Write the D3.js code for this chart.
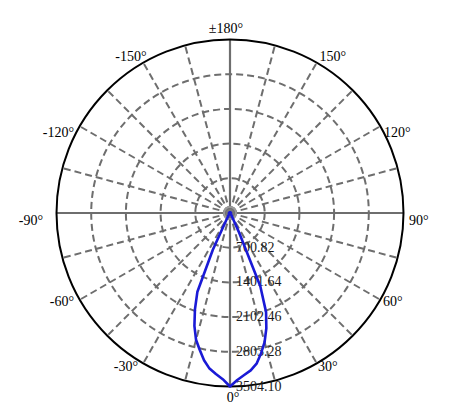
<!DOCTYPE html>
<html>
<head>
<meta charset="utf-8">
<script src="https://cdn.jsdelivr.net/npm/d3@7"></script>
<style>
  html, body { margin: 0; padding: 0; background: #fff; }
  svg { display: block; }
  text { font-family: "Liberation Serif", "Times New Roman", serif; }
</style>
</head>
<body>
<svg id="chart" width="474" height="416"></svg>
<script>
// ---- data ----
const angles = [-180, -170, -160, -150, -140, -130, -120, -110, -100, -90, -80, -70, -60, -50, -45, -40, -35,
  -30, -27.5, -25, -22.5, -20, -17.5, -15, -12.5, -10, -7.5, -5, -2.5,
  0, 2.5, 5, 7.5, 10, 12.5, 15, 17.5, 20, 22.5, 25, 27.5, 30,
  35, 40, 45, 50, 60, 70, 80, 90, 100, 110, 120, 130, 140, 150, 160, 170, 180];
const intensity = [16, 16, 16, 16, 17, 17, 17, 18, 18, 19, 20, 22, 25, 28, 30, 34, 44,
  68, 170, 820, 1720, 2070, 2390, 2650, 2830, 3020, 3170, 3265, 3360,
  3504.1, 3375, 3285, 3205, 3090, 2900, 2700, 2440, 2130, 1600, 420, 115, 60,
  42, 35, 30, 27, 24, 22, 20, 19, 18, 18, 17, 17, 17, 16, 16, 16, 16];
const radialTicks = [700.82, 1401.64, 2102.46, 2803.28, 3504.10];
const radialTickLabels = ["700.82", "1401.64", "2102.46", "2803.28", "3504.10"];
const angleTicks = [180, 150, 120, 90, 60, 30, 0, -30, -60, -90, -120, -150];
const angleTickLabels = ["±180°", "150°", "120°", "90°", "60°", "30°", "0°", "-30°", "-60°", "-90°", "-120°", "-150°"];
const spokeStep = 15;

// ---- layout ----
const cx = 230, cy = 213, R = 173.5;
const svg = d3.select("#chart");
const g = svg.append("g").attr("transform", `translate(${cx},${cy})`);
const r = d3.scaleLinear().domain([0, 3504.1]).range([0, R]);
const rad = a => a * Math.PI / 180;
// 0° points down, +90° right, ±180° up
const px = (a, rr) => rr * Math.sin(rad(a));
const py = (a, rr) => rr * Math.cos(rad(a));

const gridColor = "#6e6e6e";
const fontSize = 14;

// dashed rings
g.selectAll("circle.ring")
  .data(radialTicks.slice(0, -1))
  .join("circle")
  .attr("class", "ring")
  .attr("r", d => r(d))
  .attr("fill", "none")
  .attr("stroke", gridColor)
  .attr("stroke-width", 2)
  .attr("stroke-dasharray", "7,4");

// spokes
const spokes = d3.range(-180, 180, spokeStep);
g.selectAll("line.spoke")
  .data(spokes)
  .join("line")
  .attr("class", "spoke")
  .attr("x1", 0).attr("y1", 0)
  .attr("x2", d => px(d, R))
  .attr("y2", d => py(d, R))
  .attr("stroke", gridColor)
  .attr("stroke-width", d => d % 90 === 0 ? 2.2 : 2)
  .attr("stroke-dasharray", d => d % 90 === 0 ? null : "7,4");

// center hub
g.append("circle").attr("r", 6).attr("fill", "none").attr("stroke", "#9a9a9a").attr("stroke-width", 2);
g.append("circle").attr("r", 4).attr("fill", "#7a7a7a");

// outer circle
g.append("circle")
  .attr("r", R)
  .attr("fill", "none")
  .attr("stroke", "#000")
  .attr("stroke-width", 2);

// radial labels
g.selectAll("text.rlab")
  .data(radialTicks)
  .join("text")
  .attr("class", "rlab")
  .attr("x", 6)
  .attr("y", d => r(d) + 4)
  .attr("font-size", fontSize)
  .attr("fill", "#1a1a1a")
  .text((d, i) => radialTickLabels[i]);

// angle labels
const nudge = { "0": [3, 10], "30": [-1.5, 3], "60": [-2, 3.5], "90": [0, 11.5], "120": [-1, 13.5], "150": [0, 3],
  "180": [-4, -1], "-30": [-2.5, 3], "-60": [-1, 3.5], "-90": [-8, 11.5], "-120": [-1, 13.5], "-150": [6, 3.5] };
const LR = 179;
g.selectAll("text.alab")
  .data(angleTicks)
  .join("text")
  .attr("class", "alab")
  .attr("x", d => px(d, LR) + nudge[String(d)][0])
  .attr("y", d => py(d, LR) + nudge[String(d)][1])
  .attr("text-anchor", d => (d === 0 || d === 180) ? "middle" : (d > 0 ? "start" : "end"))
  .attr("font-size", fontSize)
  .attr("fill", "#000")
  .text((d, i) => angleTickLabels[i]);

// intensity curve
const pts = angles.map((a, i) => [a, intensity[i]]);
const line = d3.lineRadial()
  .angle(d => Math.PI - rad(d[0]))
  .radius(d => r(d[1]))
  .curve(d3.curveLinearClosed);
g.append("path")
  .datum(pts)
  .attr("d", line)
  .attr("fill", "none")
  .attr("stroke", "#1a1ad6")
  .attr("stroke-width", 2.6)
  .attr("stroke-linejoin", "round");
</script>
</body>
</html>
